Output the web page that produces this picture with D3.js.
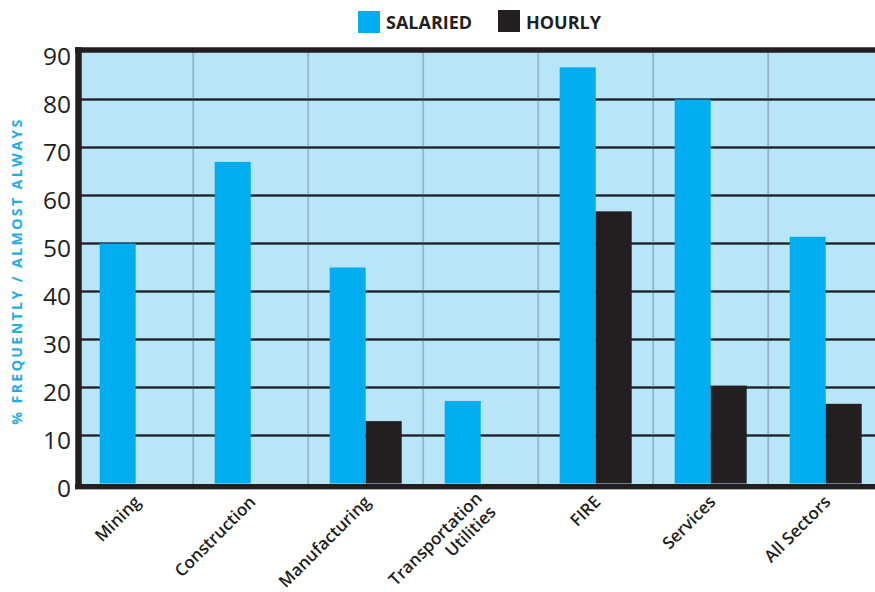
<!DOCTYPE html>
<html>
<head>
<meta charset="utf-8">
<script src="https://cdn.jsdelivr.net/npm/d3@7"></script>
<style>
  html, body { margin: 0; padding: 0; background: #ffffff; }
  svg { display: block; }
</style>
</head>
<body>
<svg id="chart" width="875" height="592"></svg>
<script>
// ---- data ----
const categories = ["Mining", "Construction", "Manufacturing", "Transportation\nUtilities", "FIRE", "Services", "All Sectors"];
const salaried = [50, 67, 45, 17.2, 86.7, 80, 51.4];
const hourly   = [0, 0, 13, 0, 56.7, 20.4, 16.6];
const seriesNames = ["SALARIED", "HOURLY"];
const yTicks = [0, 10, 20, 30, 40, 50, 60, 70, 80, 90];
const yTitle = "% FREQUENTLY / ALMOST ALWAYS";

// ---- styles ----
const colSal = "#00adef";
const colHr = "#231f20";
const colBg = "#b9e5f9";
const colSep = "#93b5c7";
const W = 875, H = 592;

const svg = d3.select("#chart");

const x = d3.scaleBand().domain(categories).range([78.2, 78.2 + 115 * categories.length]).paddingInner(0).paddingOuter(0);
const bw = x.bandwidth();
const x1 = d3.scaleBand().domain(seriesNames).range([bw / 2 - 36, bw / 2 + 36]);
const y = d3.scaleLinear().domain([0, 90]).range([483.5, 51.5]);

const plotLeft = 78, plotTop = 50, plotBottom = 486.5;

// background
svg.append("rect").attr("x", plotLeft).attr("y", plotTop).attr("width", W - plotLeft).attr("height", plotBottom - plotTop).attr("fill", colBg);

// vertical separators
svg.append("g").selectAll("line").data(categories.slice(1)).join("line")
  .attr("x1", d => x(d)).attr("x2", d => x(d))
  .attr("y1", plotTop).attr("y2", plotBottom)
  .attr("stroke", colSep).attr("stroke-width", 1.8);

// horizontal gridlines
const gridVals = yTicks.filter(v => v > 0 && v < 90);
const grid = svg.append("g");
grid.selectAll("line.halo").data(gridVals).join("line").attr("class", "halo")
  .attr("x1", plotLeft).attr("x2", W).attr("y1", d => y(d)).attr("y2", d => y(d))
  .attr("stroke", "#5f7888").attr("stroke-width", 3);
grid.selectAll("line.core").data(gridVals).join("line").attr("class", "core")
  .attr("x1", plotLeft).attr("x2", W).attr("y1", d => y(d)).attr("y2", d => y(d))
  .attr("stroke", "#1f1f22").attr("stroke-width", 1.6);

// bars
const rows = categories.map((c, i) => ({ c, vals: [salaried[i], hourly[i]] }));
const groups = svg.append("g").selectAll("g").data(rows).join("g")
  .attr("transform", d => `translate(${x(d.c)},0)`);
groups.selectAll("rect").data(d => d.vals.map((v, j) => ({ s: seriesNames[j], v })))
  .join("rect")
  .attr("x", d => x1(d.s)).attr("width", x1.bandwidth())
  .attr("y", d => y(d.v)).attr("height", d => y(0) - y(d.v))
  .attr("fill", d => d.s === "SALARIED" ? colSal : colHr);

// frame
svg.append("line").attr("x1", 75).attr("x2", W).attr("y1", 50).attr("y2", 50).attr("stroke", "#231f20").attr("stroke-width", 5.5);
svg.append("line").attr("x1", 75).attr("x2", W).attr("y1", 486.5).attr("y2", 486.5).attr("stroke", "#231f20").attr("stroke-width", 5);
svg.append("line").attr("x1", 75).attr("x2", W).attr("y1", 489.5).attr("y2", 489.5).attr("stroke", "#aaaaaa").attr("stroke-width", 1);
svg.append("line").attr("x1", 78.5).attr("x2", 78.5).attr("y1", 47.2).attr("y2", 489).attr("stroke", "#231f20").attr("stroke-width", 6.5);

// y axis labels
const yAxis = d3.axisLeft(y).tickValues(yTicks).tickSize(0).tickPadding(0);
const yg = svg.append("g").attr("transform", "translate(71,0)").call(yAxis);
yg.select(".domain").remove();
yg.selectAll("text")
  .attr("font-family", "'Open Sans', sans-serif").attr("font-size", 24.5)
  .attr("fill", "#231f20").attr("dy", "0.55em");

// y title
svg.append("text")
  .attr("transform", "translate(22,271) rotate(-90)")
  .attr("text-anchor", "middle")
  .attr("font-family", "'Open Sans', sans-serif").attr("font-weight", 700)
  .attr("font-size", 14.2).attr("letter-spacing", 2.35)
  .attr("fill", "#1fadea")
  .text(yTitle);

// x labels
const xl = svg.append("g").selectAll("text").data(categories).join("text")
  .attr("transform", d => `translate(${x(d) + bw / 2 + 6},503) rotate(-45)`)
  .attr("text-anchor", "end")
  .attr("font-family", "'Open Sans', sans-serif").attr("font-weight", 600)
  .attr("font-size", 17).attr("fill", "#231f20");
xl.each(function (d) {
  const parts = d.split("\n");
  const t = d3.select(this);
  parts.forEach((p, k) => {
    t.append("tspan").attr("x", 0)
      .attr("dy", k === 0 ? (parts.length > 1 ? "-0.3em" : 0) : "1.15em")
      .text(p);
  });
});

// legend
const legend = [{ name: seriesNames[0], color: colSal, x: 358, y: 11 }, { name: seriesNames[1], color: colHr, x: 498, y: 10 }];
const lg = svg.append("g").selectAll("g").data(legend).join("g");
lg.append("rect").attr("x", d => d.x).attr("y", d => d.y).attr("width", 22).attr("height", 22).attr("fill", d => d.color);
lg.append("text").attr("x", d => d.x + 28).attr("y", 28.5)
  .attr("font-family", "'Open Sans', sans-serif").attr("font-weight", 700)
  .attr("font-size", 18).attr("fill", "#231f20")
  .text(d => d.name);
</script>
</body>
</html>
